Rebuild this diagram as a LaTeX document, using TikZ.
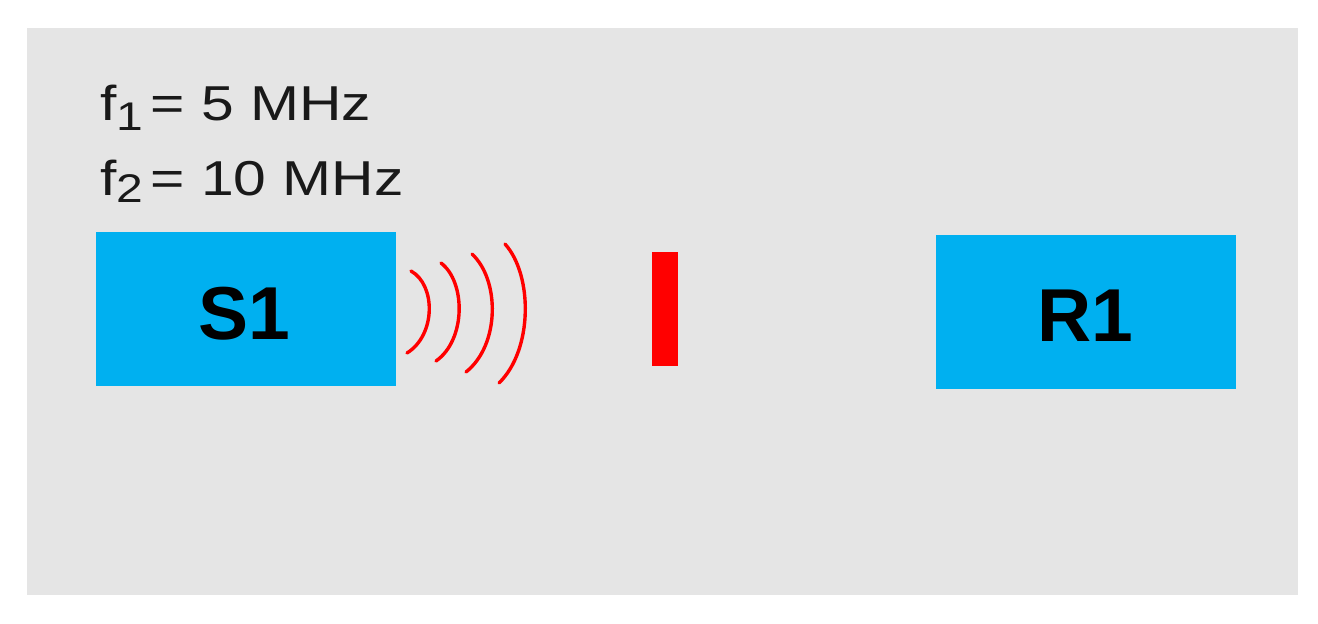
\documentclass[tikz,border=0pt]{standalone}
\usepackage{fontspec}
\setmainfont{Liberation Sans}
\definecolor{bgray}{HTML}{E5E5E5}
\definecolor{boxcyan}{HTML}{00B0F0}
\definecolor{wavered}{HTML}{FF0000}
\begin{document}
\begin{tikzpicture}[x=1pt,y=-1pt,
  devbox/.style={fill=boxcyan, draw=none, inner sep=0pt, minimum width=300pt, minimum height=154pt},
  devlabel/.style={font=\fontsize{75}{75}\selectfont\bfseries, text=black, inner sep=0pt, anchor=base},
  wave/.style={draw=wavered, line width=3.4pt, line cap=round},
  freq/.style={font=\fontsize{49}{49}\selectfont, text=black!90, inner sep=0pt, anchor=base west},
  obstacle/.style={fill=wavered, draw=none, inner sep=0pt, minimum width=26pt, minimum height=114pt}]
\useasboundingbox (0,0) rectangle (1318,624);
\fill[bgray] (27,28) rectangle (1298,595);
% frequency labels
\node[freq] (f1) at (100,120) {\scalebox{1.2}[1]{f\raisebox{-10pt}{\fontsize{40}{40}\selectfont 1}\hspace{6pt}= 5 MHz}};
\node[freq] (f2) at (100,195) {\scalebox{1.2}[1]{f\raisebox{-7pt}{\fontsize{40}{40}\selectfont 2}\hspace{6pt}= 10 MHz}};
% source and receiver
\node[devbox] (S1) at (245.5,309) {};
\node[devlabel] (S1text) at (244,339) {S1};
\node[devbox] (R1) at (1086,312) {};
\node[devlabel] (R1text) at (1085,341) {R1};
% obstacle
\node[obstacle] (obst) at (665,309) {};
% waves
\draw[wave] (407,353) .. controls (436,335) and (436,285) .. (411,271);
\draw[wave] (436,361) .. controls (466,340) and (466,282) .. (441,263);
\draw[wave] (466,372) .. controls (500,345) and (500,280) .. (472,254);
\draw[wave] (499,383) .. controls (533,350) and (533,275) .. (505,244);
\end{tikzpicture}
\end{document}
